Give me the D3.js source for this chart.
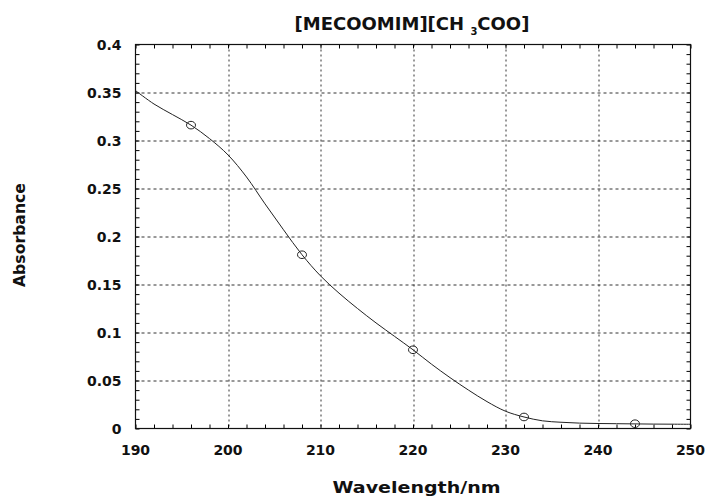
<!DOCTYPE html>
<html>
<head>
<meta charset="utf-8">
<script src="https://cdn.jsdelivr.net/npm/d3@7"></script>
<style>
  body { margin: 0; background: #fff; }
  text { font-family: "DejaVu Sans", sans-serif; font-weight: bold; fill: #111; }
</style>
</head>
<body>
<svg id="chart" width="707" height="496"></svg>
<script>
// fitted absorbance curve (nm, absorbance)
const curveWavelength = [190, 192, 194, 196, 198, 200, 202, 204, 206, 208, 210, 212, 214, 216, 218, 220,
  222, 224, 226, 228, 230, 232, 234, 236, 238, 240, 242, 244, 246, 248, 250];
const curveAbsorbance = [0.352, 0.338, 0.327, 0.316, 0.302, 0.285, 0.262, 0.234, 0.207, 0.181, 0.159, 0.141,
  0.125, 0.110, 0.096, 0.082, 0.067, 0.053, 0.040, 0.028, 0.018, 0.012, 0.008, 0.0065, 0.0056, 0.0052,
  0.0050, 0.0048, 0.0046, 0.0045, 0.0044];

// measured points
const pointWavelength = [196, 208, 220, 232, 244];
const pointAbsorbance = [0.316, 0.181, 0.082, 0.012, 0.005];

const xTicks = [190, 200, 210, 220, 230, 240, 250];
const yTicks = [0, 0.05, 0.1, 0.15, 0.2, 0.25, 0.3, 0.35, 0.4];

const margin = { top: 44.5, right: 16.5, bottom: 67.5, left: 135.5 };
const width = 707 - margin.left - margin.right;
const height = 496 - margin.top - margin.bottom;

const svg = d3.select("#chart");
const g = svg.append("g").attr("transform", `translate(${margin.left},${margin.top})`);

const x = d3.scaleLinear().domain([190, 250]).range([0, width]);
const y = d3.scaleLinear().domain([0, 0.4]).range([height, 0]);

// grid
g.append("g").selectAll("line")
  .data(xTicks.slice(1, -1))
  .join("line")
  .attr("x1", d => Math.round(x(d)) + 0.5).attr("x2", d => Math.round(x(d)) + 0.5)
  .attr("y1", 0).attr("y2", height)
  .attr("stroke", "#333").attr("stroke-width", 1).attr("stroke-dasharray", "2,3");

g.append("g").selectAll("line")
  .data(yTicks.slice(1, -1))
  .join("line")
  .attr("y1", d => Math.round(y(d)) + 0.5).attr("y2", d => Math.round(y(d)) + 0.5)
  .attr("x1", 0).attr("x2", width)
  .attr("stroke", "#333").attr("stroke-width", 1).attr("stroke-dasharray", "3,3");

// minor/major ticks on all four sides, pointing inward
const xMinor = d3.range(190, 250.1, 2);
const yMinor = d3.range(0, 41).map(i => i / 100);
const tickLen = 4;

g.append("g")
  .attr("transform", `translate(0,${height})`)
  .call(d3.axisBottom(x).tickValues(xMinor).tickSize(-tickLen).tickFormat(""))
  .call(a => a.select(".domain").remove());
g.append("g")
  .call(d3.axisTop(x).tickValues(xMinor).tickSize(-tickLen).tickFormat(""))
  .call(a => a.select(".domain").remove());
g.append("g")
  .call(d3.axisLeft(y).tickValues(yMinor).tickSize(-tickLen).tickFormat(""))
  .call(a => a.select(".domain").remove());
g.append("g")
  .attr("transform", `translate(${width},0)`)
  .call(d3.axisRight(y).tickValues(yMinor).tickSize(-tickLen).tickFormat(""))
  .call(a => a.select(".domain").remove());

// frame
g.append("rect")
  .attr("x", 0).attr("y", 0).attr("width", width).attr("height", height)
  .attr("fill", "none").attr("stroke", "#111").attr("stroke-width", 1.2);

// tick labels
g.append("g").selectAll("text")
  .data(xTicks)
  .join("text")
  .attr("x", d => x(d))
  .attr("y", height + 26)
  .attr("text-anchor", "middle")
  .style("font-size", "14px")
  .text(d => d);

g.append("g").selectAll("text")
  .data(yTicks)
  .join("text")
  .attr("x", -14)
  .attr("y", d => y(d) + 5.5)
  .attr("text-anchor", "end")
  .style("font-size", "14px")
  .text(d => d3.format("")(d));

// fitted curve
const line = d3.line()
  .x((d, i) => x(curveWavelength[i]))
  .y(d => y(d))
  .curve(d3.curveCatmullRom);

g.append("path")
  .datum(curveAbsorbance)
  .attr("fill", "none")
  .attr("stroke", "#222")
  .attr("stroke-width", 1)
  .attr("d", line);

// measured points
g.append("g").selectAll("ellipse")
  .data(pointAbsorbance)
  .join("ellipse")
  .attr("cx", (d, i) => x(pointWavelength[i]))
  .attr("cy", d => y(d))
  .attr("rx", 4.5).attr("ry", 3.8)
  .attr("fill", "none")
  .attr("stroke", "#222")
  .attr("stroke-width", 1);

// titles
const title = svg.append("text")
  .attr("x", 412)
  .attr("y", 30)
  .attr("text-anchor", "middle")
  .style("font-size", "18px");
title.append("tspan").text("[MECOOMIM][CH ");
title.append("tspan").attr("dy", 5).style("font-size", "10px").text("3");
title.append("tspan").attr("dy", -5).text("COO]");

svg.append("text")
  .attr("x", 416.5)
  .attr("y", 493)
  .attr("text-anchor", "middle")
  .attr("textLength", 168)
  .attr("lengthAdjust", "spacingAndGlyphs")
  .style("font-size", "16px")
  .text("Wavelength/nm");

svg.append("text")
  .attr("transform", "translate(25,235) rotate(-90)")
  .attr("text-anchor", "middle")
  .attr("textLength", 104)
  .attr("lengthAdjust", "spacingAndGlyphs")
  .style("font-size", "15.5px")
  .text("Absorbance");
</script>
</body>
</html>
